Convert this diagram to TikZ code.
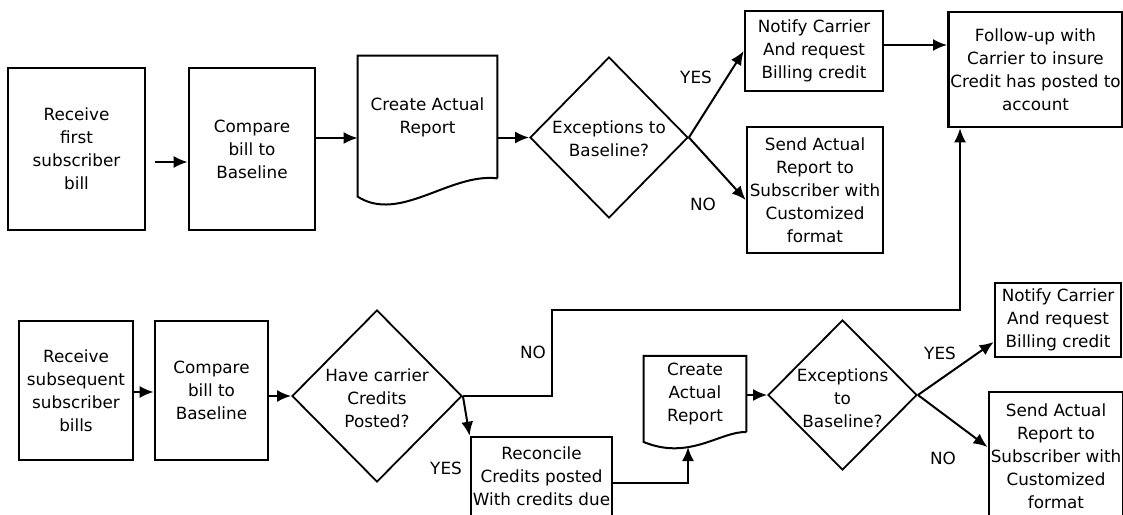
\documentclass[tikz,border=0pt]{standalone}
\usepackage{fontspec}
\setmainfont{DejaVu Sans}
\usetikzlibrary{shapes.geometric,arrows.meta}

\tikzset{
  box/.style={draw, line width=1.3pt, align=center, inner sep=1pt},
  decis/.style={draw, diamond, line width=0.9pt, inner sep=0pt},
  docline/.style={draw, line width=1pt},
  arr/.style={-{Latex[length=7pt,width=6pt]}, line width=1pt},
  lbl/.style={inner sep=0pt},
}

\begin{document}
\begin{tikzpicture}[x=0.5pt,y=-0.5pt,font=\fontsize{8.4}{11.5}\selectfont]
  \useasboundingbox (0,0) rectangle (1123,514);

  % first bill
  \node[box,minimum width=68.5pt,minimum height=81pt] (rcv1) at (76.5,149) {Receive\\first\\subscriber\\bill};
  \node[box,minimum width=63pt,minimum height=81pt] (cmp1) at (252,149) {Compare\\bill to\\Baseline};
  \node[align=center,minimum width=69.5pt,minimum height=61pt] (doc1) at (427.5,117) {Create Actual\\Report};
  \draw[docline] (doc1.south east) -- (doc1.north east) -- (doc1.north west) -- ++(0,141)
    .. controls +(42,27) and +(-47,-6) .. (doc1.south east);
  \node[decis,minimum width=79pt,minimum height=80.5pt] (exc1) at (609,137.5) {};
  \node[align=center] (exc1t) at (609,139) {Exceptions to\\Baseline?};
  \node[box,minimum width=69pt,minimum height=40pt] (ntf1) at (814,51) {Notify Carrier\\And request\\Billing credit};
  \node[box,minimum width=68pt,minimum height=63pt] (snd1) at (815,190) {Send Actual\\Report to\\Subscriber with\\Customized\\format};
  \node[box,minimum width=85.5pt,minimum height=57.5pt] (fup) at (1035.5,69.5) {Follow-up with\\Carrier to insure\\Credit has posted to\\account};

  \coordinate (p1) at (155,162);
  \draw[arr] (p1) -- (p1 -| cmp1.west);
  \draw[arr] (cmp1.east |- 0,138) -- (doc1.west |- 0,138);
  \draw[arr] (doc1.east |- exc1.west) -- (exc1.west);
  \draw[arr] (exc1.east) -- (ntf1.west);
  \draw[arr] (exc1.east) -- (snd1.west |- 0,200);
  \draw[arr] (ntf1.east |- 0,45) -- (fup.west |- 0,45);
  \node[lbl] at (696,77) {YES};
  \node[lbl] at (703,204) {NO};

  % subsequent bills
  \node[box,minimum width=57pt,minimum height=69.5pt] (rcv2) at (76,390.5) {Receive\\subsequent\\subscriber\\bills};
  \node[box,minimum width=56.5pt,minimum height=69.5pt] (cmp2) at (211.5,390.5) {Compare\\bill to\\Baseline};
  \node[decis,minimum width=85pt,minimum height=86pt] (crd) at (377,396) {};
  \node[align=center] (crdt) at (377,398) {Have carrier\\Credits\\Posted?};
  \node[box,minimum width=68.5pt,minimum height=39.5pt] (rec) at (541.5,476.5) {Reconcile\\Credits posted\\With credits due};
  \node[align=center,minimum width=51pt,minimum height=37pt] (doc2) at (695,394) {Create\\Actual\\Report};
  \draw[docline] (doc2.south east) -- (doc2.north east) -- (doc2.north west) -- ++(0,86)
    .. controls +(46,19) and +(-26,-1) .. (doc2.south east);
  \coordinate (doc2b) at (688,447);
  \node[decis,minimum width=74.5pt,minimum height=75pt] (exc2) at (842.5,395) {};
  \node[align=center] (exc2t) at (842.5,398) {Exceptions\\to\\Baseline?};
  \node[box,minimum width=63pt,minimum height=37pt] (ntf2) at (1058,320) {Notify Carrier\\And request\\Billing credit};
  \node[box,minimum width=63pt,minimum height=64pt] (snd2) at (1056,456) {Send Actual\\Report to\\Subscriber with\\Customized\\format};

  \draw[arr] (rcv2.east |- 0,392) -- (cmp2.west |- 0,392);
  \draw[arr] (cmp2.east |- crd.west) -- (crd.west);
  \coordinate (nb) at (552,310);
  \draw[arr] (crd.east) -| (nb) -| (fup.south -| 960,0);
  \draw[arr] (crd.east) -- (rec.north west);
  \draw[arr] (rec.east |- 0,483) -| (doc2b);
  \draw[arr] (doc2.east |- exc2.west) -- (exc2.west);
  \draw[arr] (exc2.east) -- (ntf2.west |- 0,342);
  \draw[arr] (exc2.east) -- (snd2.west |- 0,447);
  \node[lbl] at (533,352) {NO};
  \node[lbl] at (446,468) {YES};
  \node[lbl] at (940,353) {YES};
  \node[lbl] at (943,458) {NO};
\end{tikzpicture}
\end{document}
